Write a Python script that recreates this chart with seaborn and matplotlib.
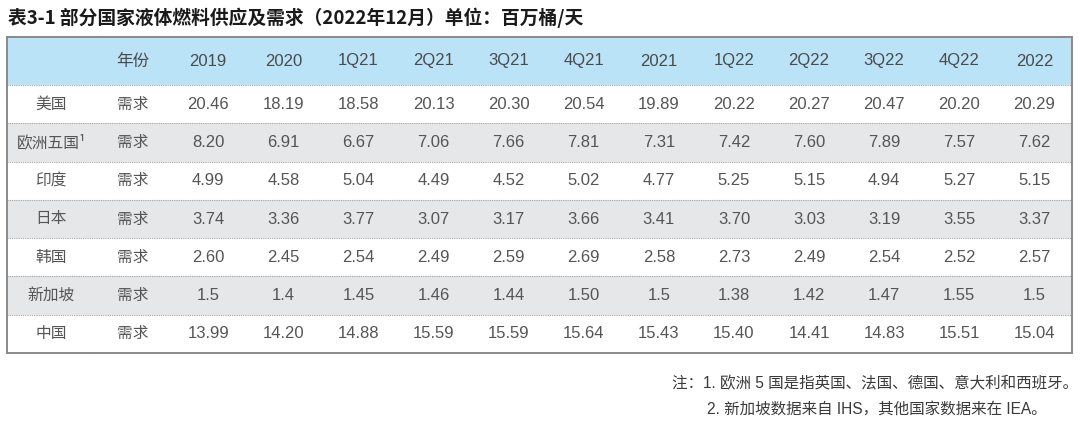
import matplotlib.pyplot as plt
import numpy as np
import seaborn as sns
from matplotlib.colors import ListedColormap

# ── Data ──────────────────────────────────────────────────────────────────────
periods = ["2019", "2020", "1Q21", "2Q21", "3Q21", "4Q21", "2021",
           "1Q22", "2Q22", "3Q22", "4Q22", "2022"]
countries = ["美国", "欧洲五国¹", "印度", "日本", "韩国", "新加坡", "中国"]
item = "需求"

# values kept as printed (source mixes precision, e.g. 1.5 vs 1.50)
usa       = ["20.46", "18.19", "18.58", "20.13", "20.30", "20.54", "19.89", "20.22", "20.27", "20.47", "20.20", "20.29"]
europe5   = ["8.20", "6.91", "6.67", "7.06", "7.66", "7.81", "7.31", "7.42", "7.60", "7.89", "7.57", "7.62"]
india     = ["4.99", "4.58", "5.04", "4.49", "4.52", "5.02", "4.77", "5.25", "5.15", "4.94", "5.27", "5.15"]
japan     = ["3.74", "3.36", "3.77", "3.07", "3.17", "3.66", "3.41", "3.70", "3.03", "3.19", "3.55", "3.37"]
korea     = ["2.60", "2.45", "2.54", "2.49", "2.59", "2.69", "2.58", "2.73", "2.49", "2.54", "2.52", "2.57"]
singapore = ["1.5", "1.4", "1.45", "1.46", "1.44", "1.50", "1.5", "1.38", "1.42", "1.47", "1.55", "1.5"]
china     = ["13.99", "14.20", "14.88", "15.59", "15.59", "15.64", "15.43", "15.40", "14.41", "14.83", "15.51", "15.04"]

title = "表3-1 部分国家液体燃料供应及需求（2022年12月）单位：百万桶/天"
note1 = "注：1. 欧洲 5 国是指英国、法国、德国、意大利和西班牙。"
note2 = "2. 新加坡数据来自 IHS，其他国家数据来在 IEA。"

# ── Style ─────────────────────────────────────────────────────────────────────
sns.set_theme(style="white")
plt.rcParams["font.family"] = ["Noto Sans CJK SC", "DejaVu Sans"]

HEADER_BLUE = "#bae3f8"
ROW_GRAY    = "#e6e7e9"
TEXT_GRAY   = "#555555"
BORDER      = "#8a8a8a"
LATIN_CJK   = ["Liberation Sans", "Noto Sans CJK SC"]
W, H = 1080, 421

# table geometry in pixels: country column is narrower than the rest
X0, X1, X2 = 7, 95.5, 1072
Y_TOP, Y_HEAD, Y_BOT = 37, 85, 353

fig = plt.figure(figsize=(W / 100, H / 100), dpi=100)


def frac_box(x_a, x_b, y_a, y_b):
    return [x_a / W, (H - y_b) / H, (x_b - x_a) / W, (y_b - y_a) / H]


ax_hl = fig.add_axes(frac_box(X0, X1, Y_TOP, Y_HEAD))
ax_hr = fig.add_axes(frac_box(X1, X2, Y_TOP, Y_HEAD))
ax_bl = fig.add_axes(frac_box(X0, X1, Y_HEAD, Y_BOT))
ax_br = fig.add_axes(frac_box(X1, X2, Y_HEAD, Y_BOT))

# ── Header row ────────────────────────────────────────────────────────────────
head_r = np.array([["年份"] + periods])
blue = ListedColormap([HEADER_BLUE])
sns.heatmap(np.zeros((1, 1)), ax=ax_hl, cmap=blue, cbar=False, linewidths=0)
sns.heatmap(np.zeros(head_r.shape), ax=ax_hr, cmap=blue, annot=head_r, fmt="",
            cbar=False, linewidths=0,
            annot_kws={"size": 12, "color": "#4a4a4a", "family": LATIN_CJK})

# ── Body rows ─────────────────────────────────────────────────────────────────
rows = [usa, europe5, india, japan, korea, singapore, china]
body_l = np.array([[c] for c in countries])
body_r = np.array([[item] + r for r in rows])
shade_l = np.array([[i % 2] for i in range(len(rows))])
shade_r = np.array([[i % 2] * body_r.shape[1] for i in range(len(rows))])
stripes = ListedColormap(["white", ROW_GRAY])

sns.heatmap(shade_l, ax=ax_bl, cmap=stripes, vmin=0, vmax=1, annot=body_l,
            fmt="", cbar=False, linewidths=0,
            annot_kws={"size": 11.3, "color": TEXT_GRAY})
sns.heatmap(shade_r, ax=ax_br, cmap=stripes, vmin=0, vmax=1, annot=body_r,
            fmt="", cbar=False, linewidths=0,
            annot_kws={"size": 12, "color": TEXT_GRAY, "family": LATIN_CJK})
for t in ax_br.texts:
    if t.get_text() == item:
        t.set_fontsize(11.3)

# dotted separators between rows (incl. under header)
for ax, ncol in ((ax_bl, 1), (ax_br, body_r.shape[1])):
    ax.hlines(np.arange(0, len(rows)), 0, ncol,
              colors="#a5a5a5", linestyles=(0, (1, 1)), linewidth=0.8)

for ax in (ax_hl, ax_hr, ax_bl, ax_br):
    ax.set_xticks([])
    ax.set_yticks([])
    ax.set_xlabel("")
    ax.set_ylabel("")
    for s in ax.spines.values():
        s.set_visible(True)
        s.set_color(BORDER)
        s.set_linewidth(1.4)
for ax in (ax_hl, ax_hr):
    ax.spines["bottom"].set_visible(False)
for ax in (ax_bl, ax_br):
    ax.spines["top"].set_visible(False)
for ax in (ax_hl, ax_bl):
    ax.spines["right"].set_visible(False)
for ax in (ax_hr, ax_br):
    ax.spines["left"].set_visible(False)

# ── Title & notes ─────────────────────────────────────────────────────────────
fig.text(8 / W, 1 - 18 / H, title, fontsize=13.5, fontweight="bold",
         color="#1a1a1a", ha="left", va="center")
fig.text(672 / W, 1 - 384 / H, note1, fontsize=11.2, color="#3a3a3a",
         ha="left", va="center", family=LATIN_CJK)
fig.text(707 / W, 1 - 409 / H, note2, fontsize=11.2, color="#3a3a3a",
         ha="left", va="center", family=LATIN_CJK)

fig.savefig("out.png", dpi=100)
